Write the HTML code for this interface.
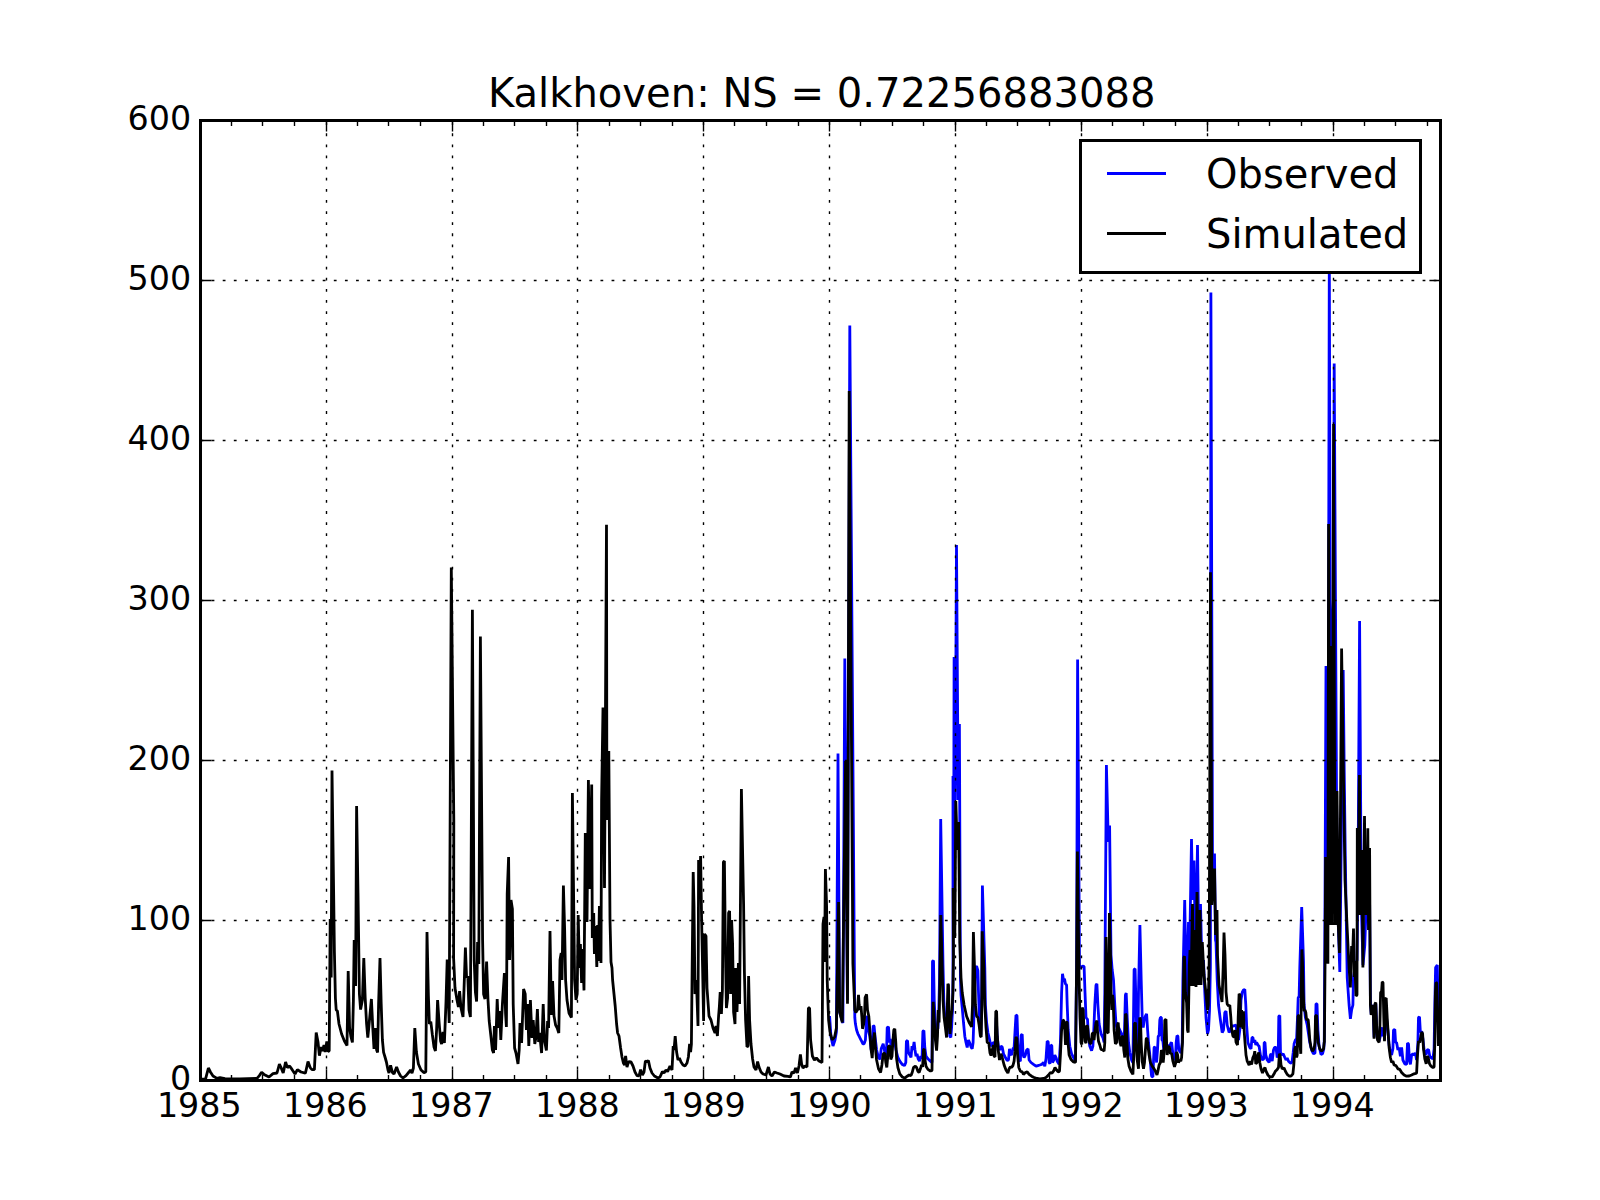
<!DOCTYPE html>
<html><head><meta charset="utf-8"><title>Kalkhoven</title>
<style>
html,body{margin:0;padding:0;background:#fff;}
svg{display:block}
text{font-family:"DejaVu Sans","Liberation Sans",sans-serif;fill:#000}
.tk{font-size:33.33px}
.big{font-size:40px}
</style></head><body>
<svg width="1600" height="1200" viewBox="0 0 1600 1200">
<rect x="0" y="0" width="1600" height="1200" fill="#fff"/>

<clipPath id="c"><rect x="200.5" y="120.5" width="1240.0" height="960.0"/></clipPath>
<polyline clip-path="url(#c)" points="829.6,1016.0 831.0,1037.0 833.0,1046.0 835.0,1040.0 836.4,1032.0 838.0,753.6 839.6,1012.0 842.9,1023.0 844.8,658.6 847.4,1000.0 849.8,325.4 854.4,967.5 854.8,1017.5 855.4,1023.8 856.6,1030.0 857.9,1033.8 859.1,1036.2 860.4,1038.8 861.6,1041.2 862.9,1043.8 864.1,1043.8 865.4,1040.0 866.6,1017.5 867.2,1016.2 868.2,1030.0 869.8,1036.2 871.2,1050.0 872.2,1042.5 873.2,1025.6 874.1,1026.2 875.0,1036.2 876.6,1050.0 878.5,1057.5 880.0,1059.4 881.2,1048.8 882.2,1046.2 883.2,1043.8 884.1,1048.8 885.4,1055.0 886.6,1050.0 887.2,1027.5 888.5,1026.9 889.5,1042.5 890.4,1038.8 891.2,1050.0 892.9,1042.5 894.1,1036.2 896.0,1050.0 897.9,1057.5 899.8,1061.2 902.2,1064.4 904.5,1065.6 905.8,1062.5 906.4,1041.2 907.5,1040.6 908.5,1052.5 909.8,1055.0 911.0,1057.5 912.0,1046.2 912.9,1050.0 914.1,1041.9 915.0,1050.0 916.0,1056.2 917.0,1053.8 918.2,1058.8 919.5,1061.2 920.8,1056.2 922.0,1058.8 922.9,1031.2 923.9,1030.6 924.8,1047.5 926.0,1056.2 927.9,1058.8 930.4,1061.2 932.0,1062.5 932.5,961.2 933.5,960.6 934.2,1000.0 935.4,1025.0 936.6,1030.0 937.9,1028.8 938.8,1011.2 939.5,980.0 940.7,819.0 943.0,965.0 943.8,1000.0 944.8,1017.5 946.6,1030.0 948.5,1017.5 949.8,1036.2 950.8,1037.5 951.6,1027.5 952.5,1010.0 953.0,980.0 953.0,776.0 953.6,900.0 954.1,657.0 955.2,800.0 956.5,545.0 958.2,800.0 959.4,724.0 960.4,977.5 961.0,995.0 962.2,1007.5 963.5,1022.5 964.8,1036.2 966.0,1042.5 967.2,1047.5 968.5,1040.0 969.8,1043.1 971.0,1046.9 972.2,1048.8 973.1,1042.5 973.9,1017.5 974.8,992.5 975.6,967.5 976.6,966.2 977.9,970.6 978.5,992.5 979.4,1017.5 980.8,1035.0 981.6,1005.0 982.4,885.6 984.8,967.5 985.4,1005.0 986.6,1022.5 987.9,1032.5 989.1,1037.5 991.0,1046.2 992.9,1043.1 994.1,1042.5 995.4,1046.2 996.2,1017.5 997.2,1036.2 998.5,1047.5 999.8,1050.0 1001.0,1046.2 1002.2,1046.9 1003.5,1053.8 1005.4,1057.5 1007.2,1060.6 1008.5,1060.0 1009.5,1048.8 1010.4,1053.8 1011.6,1055.0 1012.9,1048.8 1014.1,1047.5 1015.1,1030.0 1016.0,1015.0 1017.0,1015.6 1017.9,1042.5 1019.1,1060.0 1020.4,1061.2 1021.2,1035.0 1022.2,1034.4 1023.1,1055.0 1024.1,1057.5 1025.4,1055.0 1026.6,1050.0 1028.1,1048.8 1029.1,1060.0 1031.0,1062.5 1033.5,1064.4 1036.0,1066.2 1037.9,1065.6 1039.8,1065.0 1041.6,1064.4 1043.5,1062.5 1044.8,1066.2 1046.0,1058.8 1047.2,1041.2 1048.2,1041.9 1049.1,1062.5 1050.0,1063.8 1050.8,1045.0 1051.8,1045.6 1052.5,1062.5 1053.8,1060.0 1054.8,1055.0 1056.0,1057.5 1057.2,1061.2 1059.1,1064.4 1060.4,1042.5 1061.6,992.5 1062.5,973.8 1063.5,980.0 1064.5,978.8 1065.4,983.8 1066.6,985.0 1067.2,1005.0 1068.2,1030.0 1069.8,1046.2 1071.6,1053.8 1073.5,1057.5 1075.5,1061.2 1076.0,1017.5 1076.6,967.5 1077.6,659.6 1079.5,967.5 1080.4,968.8 1081.2,966.9 1082.5,966.2 1084.1,966.5 1085.0,992.5 1086.0,1017.5 1087.5,1019.4 1088.5,1037.5 1089.8,1046.2 1091.6,1050.6 1092.9,1046.2 1093.8,1030.0 1094.8,1005.0 1096.0,985.0 1096.9,983.8 1097.9,1005.0 1099.1,1023.8 1101.0,1033.8 1102.9,1037.5 1104.1,1042.5 1104.8,992.5 1106.4,765.0 1108.3,842.0 1109.6,825.6 1111.0,955.0 1112.2,970.0 1113.5,980.0 1114.8,1005.0 1116.0,1023.8 1117.2,1030.0 1118.5,1027.5 1119.8,1030.0 1121.0,1032.5 1122.2,1036.2 1123.5,1042.5 1124.5,1030.0 1125.4,995.0 1126.2,993.1 1127.2,1017.5 1128.5,1042.5 1129.8,1052.5 1131.6,1060.0 1132.9,1062.5 1133.5,1017.5 1134.1,969.4 1135.1,968.8 1136.0,1005.0 1137.0,1042.5 1137.9,1048.8 1138.5,992.5 1139.9,925.0 1141.2,980.0 1142.2,1017.5 1143.2,1027.5 1144.2,1020.0 1145.4,1016.2 1146.6,1013.8 1147.6,1030.0 1148.5,1042.5 1149.8,1055.0 1150.8,1067.5 1151.6,1076.2 1152.9,1076.9 1153.5,1061.2 1154.1,1047.5 1155.0,1046.9 1155.8,1055.0 1156.6,1062.5 1157.5,1050.0 1158.2,1036.2 1159.1,1035.6 1159.8,1020.0 1160.4,1017.5 1161.4,1017.5 1162.0,1040.0 1162.9,1041.2 1163.8,1050.0 1165.4,1042.5 1166.6,1048.8 1168.5,1045.0 1169.8,1046.2 1170.8,1043.1 1171.6,1042.5 1172.9,1053.8 1174.1,1060.0 1175.4,1057.5 1176.2,1042.5 1177.0,1035.6 1177.9,1036.2 1178.8,1050.0 1179.8,1051.2 1181.0,1053.1 1182.2,1042.5 1182.9,980.0 1184.7,900.0 1186.5,1000.0 1188.5,922.0 1189.5,960.0 1191.5,839.0 1192.6,900.0 1194.0,860.5 1195.5,960.0 1197.5,845.0 1199.0,960.0 1200.5,904.0 1202.0,970.0 1203.5,960.0 1204.8,992.5 1206.0,1017.5 1207.5,1033.8 1208.5,1030.0 1209.5,1011.0 1210.4,967.0 1210.9,292.5 1212.6,900.0 1214.5,853.5 1215.5,940.0 1216.0,942.5 1217.2,980.0 1218.5,1005.0 1220.4,1020.0 1222.2,1032.5 1223.5,1030.0 1224.8,1012.5 1226.0,1011.0 1227.2,1025.0 1229.1,1032.5 1230.4,1030.0 1231.6,1026.0 1233.5,1026.0 1236.0,1025.0 1237.2,1036.2 1238.5,1040.0 1239.8,1030.0 1241.0,1000.0 1242.2,992.5 1243.5,990.0 1244.8,989.4 1245.8,1005.0 1246.6,1025.0 1247.9,1042.5 1249.8,1047.5 1251.0,1048.8 1252.0,1037.5 1252.9,1037.5 1253.8,1042.5 1254.8,1040.0 1255.8,1045.0 1256.6,1042.5 1257.9,1045.0 1259.1,1046.2 1260.4,1055.0 1262.2,1060.0 1263.8,1058.8 1264.2,1042.5 1265.0,1042.5 1265.8,1055.0 1267.2,1060.0 1269.1,1062.5 1270.4,1055.0 1271.2,1053.8 1272.2,1061.2 1273.5,1050.0 1274.5,1047.5 1276.0,1047.5 1277.2,1057.5 1278.2,1055.0 1278.8,1016.2 1279.8,1015.6 1280.5,1052.5 1281.6,1055.0 1283.2,1053.8 1284.8,1057.5 1286.0,1060.0 1287.2,1058.1 1288.5,1061.2 1290.4,1063.1 1292.0,1062.5 1293.2,1052.5 1294.1,1043.8 1295.4,1040.0 1296.6,1038.8 1297.5,1017.5 1298.2,997.5 1299.1,996.9 1299.8,967.5 1301.7,907.0 1303.5,961.2 1304.1,1005.0 1305.4,1017.5 1307.2,1025.0 1309.8,1042.5 1311.6,1050.0 1313.5,1053.8 1315.0,1053.1 1316.0,1003.8 1317.0,1003.8 1317.9,1030.0 1319.1,1046.2 1321.0,1054.4 1322.5,1053.8 1323.8,1048.8 1324.2,1042.5 1324.3,1035.0 1325.0,900.0 1326.0,666.0 1327.3,880.0 1328.4,700.0 1329.3,255.0 1330.2,600.0 1331.2,660.0 1332.4,640.0 1333.4,600.0 1334.2,363.5 1336.5,790.0 1337.5,900.0 1339.8,972.0 1343.2,670.0 1344.2,770.0 1345.2,850.0 1346.6,940.0 1347.2,977.5 1349.1,1005.0 1350.4,1018.8 1351.6,1010.0 1352.9,1005.0 1353.5,977.0 1355.4,965.0 1357.0,960.0 1358.0,880.0 1359.6,621.0 1361.2,900.0 1363.0,965.0 1364.8,945.0 1365.3,930.0 1366.5,900.0 1367.8,860.0 1368.6,930.0 1369.6,900.0 1370.4,1000.0 1371.2,1014.4 1372.2,1005.0 1373.2,1010.0 1374.1,1037.5 1375.0,1005.0 1375.8,1003.8 1376.6,1025.0 1377.5,1038.8 1379.1,1041.2 1380.0,1037.5 1381.0,1030.0 1382.0,1027.5 1382.9,1036.2 1383.8,1030.0 1384.5,1040.0 1385.4,1017.5 1386.2,1015.0 1387.2,1023.8 1388.2,1033.8 1389.1,1045.0 1390.4,1052.5 1391.6,1055.0 1392.9,1048.8 1393.5,1030.0 1394.8,1029.4 1395.6,1042.5 1396.6,1042.5 1397.9,1050.0 1399.1,1047.5 1400.4,1056.2 1401.6,1047.5 1402.9,1060.0 1404.8,1063.8 1406.6,1064.4 1407.5,1043.1 1408.5,1043.8 1409.5,1061.2 1410.4,1064.4 1411.6,1055.0 1412.9,1053.8 1414.1,1055.0 1415.4,1053.1 1416.6,1060.0 1417.9,1042.5 1418.5,1017.5 1419.5,1016.9 1420.4,1032.5 1421.6,1031.2 1422.9,1038.8 1424.1,1050.0 1426.0,1055.0 1427.2,1050.0 1428.5,1049.4 1429.8,1056.2 1431.0,1057.5 1432.9,1058.8 1434.1,1048.8 1434.8,1005.0 1435.6,967.5 1437.3,965.0 1438.0,1000.0 1438.6,1040.0" fill="none" stroke="#0000ff" stroke-width="2.8" stroke-linejoin="bevel" stroke-linecap="butt"/>
<polyline clip-path="url(#c)" points="200.4,1079.2 205.6,1078.8 208.4,1068.0 210.4,1072.0 213.0,1076.0 217.0,1078.4 220.0,1077.6 225.0,1078.6 240.0,1079.0 257.0,1078.4 259.4,1075.6 261.6,1072.2 264.0,1074.4 269.0,1077.0 273.0,1073.6 277.0,1073.0 279.4,1064.0 281.4,1068.4 283.2,1073.0 285.6,1062.0 287.4,1067.6 289.6,1066.0 292.0,1069.4 295.0,1074.0 297.4,1069.6 301.0,1072.0 305.4,1073.2 308.0,1061.6 310.2,1067.6 312.0,1069.6 314.4,1069.6 316.2,1032.6 318.0,1042.0 319.4,1055.6 321.2,1047.0 322.4,1051.2 324.0,1045.0 325.2,1052.0 326.8,1041.4 328.0,1051.4 329.2,1051.0 330.2,919.0 331.2,977.6 332.0,770.5 333.6,890.0 334.4,952.0 335.4,998.0 336.2,1010.0 337.4,1011.0 339.0,1024.0 341.6,1034.0 344.4,1041.0 347.0,1045.6 348.2,971.0 349.6,1028.0 351.0,1037.0 352.4,1042.4 353.4,1000.0 354.2,940.0 355.6,986.0 356.6,806.0 358.0,893.0 359.4,994.0 360.6,1009.6 362.4,1000.0 363.8,958.0 365.2,998.0 366.6,1024.0 367.8,1037.6 369.4,1021.0 371.4,999.0 372.8,1028.0 374.0,1049.0 375.4,1028.0 376.6,1050.0 377.6,1052.4 378.6,1004.0 380.0,958.0 381.2,1004.0 382.4,1040.0 383.6,1052.4 385.0,1057.0 386.4,1062.0 388.0,1070.0 389.0,1073.0 390.6,1065.4 392.4,1072.4 394.0,1074.0 396.6,1067.0 398.4,1072.0 400.6,1076.0 403.0,1078.0 406.0,1075.6 409.0,1072.0 410.4,1070.0 412.0,1073.0 413.4,1068.0 414.8,1028.0 416.4,1052.0 418.4,1064.0 421.0,1070.0 424.0,1072.6 425.8,1072.0 427.0,932.0 428.4,996.0 429.4,1024.0 430.8,1021.6 432.4,1035.0 434.0,1047.0 435.4,1051.0 436.6,1030.0 437.6,1000.0 439.0,1021.0 440.6,1041.0 441.6,1044.0 443.0,1032.0 444.4,1043.0 446.0,1002.0 447.2,959.6 448.2,998.0 449.2,1023.0 451.3,567.5 453.8,821.0 453.6,958.0 455.0,988.0 457.0,1000.0 458.4,1007.0 459.6,991.0 461.0,1008.0 463.0,1017.0 464.0,990.0 465.4,947.6 466.6,978.0 467.8,976.0 469.0,1010.0 470.4,1017.0 472.4,609.8 474.2,960.0 475.4,992.0 476.6,1001.6 477.6,942.0 478.8,964.0 480.4,636.5 482.6,940.0 483.6,994.0 485.0,999.0 486.6,961.6 488.0,1000.0 489.2,1021.0 491.0,1037.0 492.4,1050.0 493.6,1053.0 494.4,1026.0 495.6,1050.0 497.2,999.0 498.4,1028.0 499.6,1011.0 500.8,1040.0 502.4,1004.0 504.4,973.0 505.6,1014.0 506.4,1027.0 507.2,894.0 508.6,857.0 509.6,960.0 511.0,900.0 512.4,909.0 513.2,1004.0 514.6,1048.0 516.0,1053.0 518.0,1064.0 519.2,1050.0 520.0,1023.0 521.6,1043.0 523.6,989.0 525.2,994.0 526.4,1030.0 527.6,1004.0 528.8,1046.0 530.4,1000.0 532.0,1038.0 533.2,1020.0 534.8,1044.0 536.0,1037.0 537.4,1009.0 538.6,1042.0 539.6,1033.0 541.6,1053.0 543.2,1004.0 544.4,1040.0 546.4,1050.4 547.6,1021.0 548.6,1028.0 550.0,931.0 551.4,1015.0 552.6,981.0 554.0,1016.0 555.6,1025.0 557.2,1028.0 558.8,1033.0 560.0,960.0 561.2,953.0 562.0,980.0 563.4,885.6 564.6,928.0 565.6,980.0 567.0,1000.0 569.0,1013.0 571.4,1017.6 572.4,793.0 574.6,980.0 576.0,1000.0 577.2,994.0 578.2,915.0 579.4,968.0 580.4,944.0 581.6,983.0 582.6,949.0 584.0,990.4 585.3,833.0 587.0,922.0 588.4,780.0 590.0,889.0 591.7,784.4 592.3,938.0 593.7,913.0 594.4,954.0 595.6,926.0 596.8,967.0 597.6,925.0 598.4,961.0 599.4,906.0 601.0,963.0 601.6,800.0 603.0,707.5 604.5,888.0 606.5,524.8 606.9,820.0 608.8,751.0 610.0,920.0 611.0,962.0 612.0,968.0 612.6,980.0 614.0,994.0 615.2,1006.0 616.6,1024.0 617.6,1033.0 619.0,1036.0 620.6,1048.0 622.0,1057.0 623.4,1063.0 624.6,1065.0 625.6,1056.0 627.0,1067.0 628.6,1061.6 631.0,1062.0 633.0,1066.0 635.0,1072.0 637.0,1075.6 639.0,1076.0 640.6,1069.6 642.4,1075.0 644.0,1072.0 645.4,1061.0 647.0,1061.6 648.4,1060.6 650.0,1068.0 652.0,1073.0 654.4,1076.0 658.0,1078.0 660.0,1077.0 662.4,1071.6 664.0,1073.0 666.0,1070.0 667.6,1071.6 670.0,1066.0 672.0,1070.0 673.2,1046.0 674.0,1050.0 675.2,1036.0 676.6,1052.0 678.0,1060.0 679.4,1058.0 681.0,1062.0 683.0,1065.0 685.0,1066.0 687.0,1063.0 688.4,1057.0 689.6,1044.0 690.6,1052.0 691.4,1044.0 692.2,963.0 693.2,872.0 694.0,906.0 695.0,994.0 696.4,980.0 698.0,1026.0 698.6,860.0 699.6,888.0 700.6,856.0 701.6,920.0 702.6,968.0 703.6,1021.0 704.6,934.0 706.0,936.0 707.0,988.0 709.0,1016.0 711.0,1020.0 713.0,1028.0 715.0,1033.0 716.0,1026.0 717.4,1036.0 718.6,1016.0 719.4,1006.0 720.2,992.0 721.4,1014.0 722.4,990.0 723.4,862.0 724.4,861.0 725.4,948.0 726.4,1008.0 727.6,998.0 728.6,913.0 729.6,911.0 730.6,994.0 731.6,920.0 732.6,944.0 733.6,1012.0 735.0,1024.0 735.6,968.0 737.0,1012.0 738.4,963.0 739.6,1004.0 741.4,789.0 743.6,904.0 744.4,972.0 745.6,1020.0 747.0,1047.0 748.0,1046.0 748.6,976.0 749.6,1020.0 751.0,1044.0 752.6,1059.0 754.0,1067.0 756.0,1070.0 757.6,1061.6 759.0,1067.0 761.0,1072.0 763.0,1074.0 766.0,1075.0 768.4,1067.0 770.0,1074.0 772.0,1076.0 774.4,1072.0 777.0,1073.0 780.0,1074.0 784.0,1076.0 788.0,1076.4 790.4,1077.0 792.0,1072.0 794.0,1073.0 795.6,1068.0 797.4,1073.0 799.0,1066.0 800.4,1054.4 801.6,1064.0 803.0,1068.0 805.0,1066.0 807.0,1067.0 808.4,1008.0 809.6,1008.0 810.6,1040.0 812.4,1056.0 814.4,1060.0 816.4,1058.0 819.0,1061.0 822.0,1062.4 823.0,924.0 824.0,917.0 824.6,962.0 825.4,869.0 826.6,906.0 827.2,980.0 828.6,1020.0 830.0,1032.0 832.2,1040.0 834.6,1037.0 836.4,1028.0 837.6,960.0 838.6,902.0 839.6,1012.0 842.3,1022.5 845.6,761.0 847.5,1003.8 849.2,391.0 852.9,963.8 854.1,992.5 854.8,1010.0 855.8,1012.5 856.6,1011.2 857.5,1010.0 858.5,994.8 859.2,1005.0 860.0,1010.0 861.0,1006.2 861.9,1017.5 862.5,1028.8 863.5,1025.0 864.5,1017.5 865.1,997.5 866.6,994.4 867.5,1010.0 868.8,1016.2 869.8,1030.0 871.0,1048.8 872.2,1058.1 873.1,1042.5 874.5,1032.5 875.4,1047.5 876.6,1060.0 878.5,1068.8 880.6,1072.5 881.9,1065.0 883.2,1053.8 884.8,1053.1 885.8,1062.5 886.8,1067.5 887.9,1055.0 888.5,1046.2 890.0,1046.2 890.8,1059.4 892.0,1056.2 892.9,1041.2 893.8,1030.0 894.8,1028.8 895.8,1042.5 896.6,1058.8 897.9,1067.5 899.8,1073.8 902.2,1076.9 904.8,1078.1 907.2,1076.2 909.1,1075.0 911.0,1075.6 912.2,1072.5 913.5,1067.5 915.4,1066.2 916.6,1067.5 917.9,1071.2 919.1,1072.5 920.4,1068.8 921.6,1065.0 922.6,1066.9 923.5,1050.0 924.2,1048.8 925.0,1060.0 926.0,1066.2 927.9,1069.4 930.4,1071.0 932.0,1070.6 932.5,1030.0 933.2,1001.9 934.1,1017.5 935.4,1040.0 936.6,1050.6 937.5,1036.2 938.2,1010.0 939.1,1022.5 939.8,986.2 940.8,915.0 942.2,967.5 943.0,1000.0 944.1,1017.5 945.4,1027.5 946.6,1037.5 947.9,983.8 948.5,985.0 949.1,1017.5 950.0,1033.8 951.0,1017.5 952.0,1010.0 952.9,992.5 953.5,955.0 953.2,888.0 954.8,938.0 955.8,801.0 957.3,850.0 958.6,822.0 959.8,942.5 961.0,977.5 962.2,992.5 964.1,1005.0 966.6,1016.2 969.1,1022.5 971.6,1026.9 972.5,1005.0 973.4,932.0 974.5,967.5 975.4,1005.0 976.6,1016.2 977.9,1017.5 979.1,1025.0 980.4,1036.2 981.2,1036.9 981.8,1005.0 982.2,931.2 983.9,967.5 984.8,1005.0 986.0,1027.5 987.2,1042.5 988.8,1043.1 990.0,1053.1 991.0,1055.6 992.2,1050.0 993.5,1045.0 994.1,1056.2 995.0,1056.9 995.8,1011.2 996.6,1011.2 997.2,1033.8 998.2,1050.0 999.5,1060.0 1001.0,1053.8 1002.2,1057.5 1004.1,1065.0 1006.0,1070.0 1007.9,1073.1 1009.1,1068.8 1010.4,1066.9 1011.6,1067.5 1012.9,1065.6 1014.1,1061.2 1015.0,1051.2 1016.0,1036.9 1016.9,1038.8 1017.6,1055.0 1018.8,1067.5 1020.4,1071.2 1022.2,1071.9 1023.5,1074.4 1025.4,1072.5 1027.2,1071.9 1029.1,1074.4 1031.6,1076.2 1034.1,1077.5 1036.0,1078.1 1039.8,1078.8 1043.5,1078.5 1046.0,1077.5 1048.5,1075.0 1050.4,1072.5 1052.0,1073.1 1053.5,1071.2 1055.0,1067.5 1056.6,1070.0 1058.2,1071.9 1059.5,1071.2 1060.4,1055.0 1061.6,1030.0 1062.9,1020.0 1063.8,1020.6 1064.8,1030.0 1065.5,1045.0 1066.2,1021.9 1067.2,1022.5 1068.0,1042.5 1069.1,1055.0 1071.0,1059.4 1073.5,1061.9 1075.5,1062.5 1076.0,1017.5 1076.6,967.5 1077.4,851.6 1079.1,980.0 1080.0,1017.5 1081.0,1042.5 1081.8,1044.4 1082.2,1007.5 1083.2,1010.0 1084.0,1030.0 1085.0,1041.2 1086.0,1043.1 1086.6,1025.6 1087.5,1026.2 1088.5,1037.5 1089.8,1043.1 1091.0,1043.8 1092.2,1033.8 1093.2,1032.5 1094.1,1040.0 1095.0,1030.0 1096.0,1022.5 1096.9,1020.6 1097.6,1032.5 1098.5,1041.2 1099.8,1045.0 1101.0,1049.4 1102.9,1050.0 1104.1,1051.2 1104.8,1042.5 1105.4,992.5 1106.0,937.0 1106.9,980.0 1107.5,1032.5 1108.2,1033.1 1108.9,992.5 1109.4,913.0 1110.5,955.0 1111.0,990.0 1111.8,1010.0 1112.5,995.0 1113.2,1000.0 1114.1,1030.0 1115.4,1043.8 1116.6,1042.5 1117.5,1025.0 1118.2,1022.5 1119.0,1033.8 1120.0,1042.5 1121.0,1046.2 1122.0,1036.9 1122.9,1036.2 1123.8,1050.0 1124.8,1057.5 1125.5,1013.8 1126.2,1015.0 1127.0,1042.5 1127.9,1058.8 1129.1,1066.2 1131.0,1071.2 1132.9,1074.4 1133.8,1055.0 1134.5,1023.8 1135.4,1022.5 1136.2,1042.5 1137.2,1060.0 1138.5,1068.8 1139.2,1042.5 1139.8,1017.5 1140.5,1020.0 1141.2,1042.5 1142.2,1061.2 1143.5,1068.8 1144.5,1062.5 1145.4,1050.0 1146.2,1038.8 1147.0,1038.1 1147.9,1045.0 1149.1,1055.0 1150.4,1062.5 1152.2,1066.2 1154.1,1068.8 1155.4,1071.2 1157.0,1075.0 1157.9,1071.2 1159.1,1065.0 1160.4,1062.5 1161.4,1050.0 1162.2,1051.9 1163.2,1062.5 1164.1,1052.5 1164.8,1020.0 1166.0,1019.4 1166.6,1042.5 1167.2,1055.0 1168.2,1046.2 1169.5,1047.5 1170.4,1053.8 1171.6,1053.1 1172.9,1061.2 1174.5,1066.9 1175.8,1062.5 1176.6,1051.9 1177.6,1055.0 1178.5,1062.5 1179.8,1060.0 1180.8,1061.2 1181.6,1057.5 1182.5,1042.5 1183.2,1005.0 1183.9,957.5 1184.5,956.2 1185.4,992.5 1186.6,1002.5 1187.5,1030.0 1188.2,1032.5 1189.3,965.0 1190.0,950.0 1191.0,986.0 1192.5,904.0 1193.5,986.0 1195.0,930.0 1196.0,987.0 1197.0,892.0 1198.3,985.0 1200.0,910.0 1201.0,985.0 1202.3,942.0 1204.0,975.0 1206.6,1000.0 1207.5,1010.0 1208.3,1005.0 1209.2,960.0 1210.5,572.2 1211.9,905.0 1214.5,868.5 1215.6,935.0 1217.0,910.0 1217.5,955.0 1219.0,985.0 1222.0,1002.0 1223.2,967.0 1224.0,932.5 1225.0,955.0 1226.0,992.0 1227.2,1004.0 1228.5,1006.0 1229.8,1005.0 1230.8,1017.0 1231.6,1029.0 1232.9,1036.0 1234.1,1037.5 1235.0,1030.0 1236.0,1042.0 1237.5,1045.0 1238.2,1017.5 1239.1,993.8 1240.0,995.0 1240.8,1027.5 1241.6,1010.0 1242.9,1028.8 1243.5,1011.2 1244.1,1030.0 1245.0,1042.5 1246.0,1055.0 1247.2,1061.2 1249.1,1065.0 1250.4,1061.2 1251.6,1064.4 1252.9,1057.5 1254.1,1055.0 1254.8,1051.2 1255.8,1063.8 1257.0,1062.5 1257.9,1055.0 1258.8,1052.5 1259.8,1062.5 1261.0,1068.8 1262.5,1073.1 1264.1,1068.8 1265.0,1067.5 1266.0,1071.2 1267.9,1075.0 1269.8,1076.9 1272.2,1076.9 1274.1,1073.8 1275.4,1071.2 1277.2,1069.4 1278.5,1067.5 1279.4,1053.8 1280.1,1055.0 1281.0,1065.0 1282.2,1068.8 1284.1,1068.1 1285.4,1071.2 1287.2,1074.4 1289.1,1076.0 1291.0,1076.2 1292.9,1073.8 1293.8,1065.0 1294.8,1048.8 1295.8,1046.2 1296.6,1057.5 1297.2,1055.0 1298.0,1016.2 1299.1,1015.0 1299.8,1042.5 1300.8,1053.8 1301.2,992.5 1301.9,949.4 1302.5,962.5 1303.2,992.5 1304.1,1011.2 1305.0,1010.0 1305.8,1012.5 1306.6,1020.0 1307.5,1019.4 1308.2,1020.0 1309.1,1030.0 1309.8,1040.0 1311.0,1047.5 1312.5,1051.2 1314.1,1048.8 1315.0,1042.5 1315.5,1016.2 1316.6,1015.0 1317.2,1030.0 1318.2,1042.5 1319.8,1048.8 1321.6,1051.2 1323.5,1048.8 1324.2,1042.5 1324.4,1042.0 1325.2,945.0 1325.6,857.0 1326.8,930.0 1327.9,963.8 1328.6,524.0 1330.2,925.0 1331.2,646.0 1332.1,925.0 1333.6,424.0 1335.0,925.0 1335.6,830.0 1336.2,925.0 1337.0,791.0 1338.3,925.0 1339.5,953.0 1341.6,648.6 1343.2,760.0 1345.0,880.0 1347.0,925.0 1349.1,967.5 1350.4,987.5 1351.6,946.0 1352.4,962.0 1353.5,928.5 1354.2,977.0 1354.8,961.0 1356.0,996.0 1357.0,995.0 1357.3,828.0 1358.0,915.0 1359.4,775.0 1360.5,915.0 1362.0,850.0 1362.9,967.5 1364.5,816.0 1365.5,915.0 1366.5,850.0 1367.0,915.0 1367.8,828.3 1368.6,930.0 1369.6,848.0 1370.4,1005.0 1371.2,1015.0 1372.2,1005.0 1373.2,1010.0 1374.1,1038.8 1375.0,1003.8 1375.8,1002.5 1376.6,1025.0 1377.5,1040.0 1379.1,1042.5 1379.8,1030.0 1380.6,992.5 1381.6,991.2 1382.2,981.9 1383.0,982.5 1383.8,1017.5 1384.5,1041.2 1385.4,998.8 1386.2,998.1 1387.2,1017.5 1388.2,1033.8 1389.1,1047.5 1390.4,1057.5 1391.6,1062.5 1392.9,1061.2 1394.1,1065.0 1396.0,1065.6 1397.9,1068.8 1399.8,1069.4 1401.6,1072.5 1404.1,1075.0 1406.6,1076.2 1409.1,1076.0 1411.6,1075.0 1414.1,1073.8 1416.6,1073.1 1417.5,1055.0 1418.5,1041.2 1419.8,1042.5 1420.8,1036.2 1421.9,1031.9 1422.6,1033.8 1423.5,1048.8 1424.8,1058.8 1426.2,1063.8 1427.2,1056.2 1428.2,1057.5 1429.5,1063.8 1431.0,1066.2 1432.9,1067.5 1434.1,1066.9 1434.8,1042.5 1435.4,992.5 1436.0,982.5 1436.7,983.0 1437.6,1010.0 1438.4,1046.0" fill="none" stroke="#000000" stroke-width="2.8" stroke-linejoin="bevel" stroke-linecap="butt"/>
<path d="M326.50 1080.5 V120.5 M452.50 1080.5 V120.5 M577.50 1080.5 V120.5 M703.50 1080.5 V120.5 M829.50 1080.5 V120.5 M955.50 1080.5 V120.5 M1081.50 1080.5 V120.5 M1207.50 1080.5 V120.5 M1333.50 1080.5 V120.5 M200.5 920.50 H1440.5 M200.5 760.50 H1440.5 M200.5 600.50 H1440.5 M200.5 440.50 H1440.5 M200.5 280.50 H1440.5" stroke="#000" stroke-width="1.39" stroke-dasharray="2.78 8.33" fill="none"/>
<path d="M200.50 1080.5 v-11.1 M200.50 120.5 v11.1 M231.50 1080.5 v-5.56 M231.50 120.5 v5.56 M262.50 1080.5 v-5.56 M262.50 120.5 v5.56 M294.50 1080.5 v-5.56 M294.50 120.5 v5.56 M326.50 1080.5 v-11.1 M326.50 120.5 v11.1 M357.50 1080.5 v-5.56 M357.50 120.5 v5.56 M388.50 1080.5 v-5.56 M388.50 120.5 v5.56 M420.50 1080.5 v-5.56 M420.50 120.5 v5.56 M452.50 1080.5 v-11.1 M452.50 120.5 v11.1 M483.50 1080.5 v-5.56 M483.50 120.5 v5.56 M514.50 1080.5 v-5.56 M514.50 120.5 v5.56 M546.50 1080.5 v-5.56 M546.50 120.5 v5.56 M577.50 1080.5 v-11.1 M577.50 120.5 v11.1 M609.50 1080.5 v-5.56 M609.50 120.5 v5.56 M640.50 1080.5 v-5.56 M640.50 120.5 v5.56 M672.50 1080.5 v-5.56 M672.50 120.5 v5.56 M703.50 1080.5 v-11.1 M703.50 120.5 v11.1 M734.50 1080.5 v-5.56 M734.50 120.5 v5.56 M766.50 1080.5 v-5.56 M766.50 120.5 v5.56 M798.50 1080.5 v-5.56 M798.50 120.5 v5.56 M829.50 1080.5 v-11.1 M829.50 120.5 v11.1 M860.50 1080.5 v-5.56 M860.50 120.5 v5.56 M892.50 1080.5 v-5.56 M892.50 120.5 v5.56 M923.50 1080.5 v-5.56 M923.50 120.5 v5.56 M955.50 1080.5 v-11.1 M955.50 120.5 v11.1 M986.50 1080.5 v-5.56 M986.50 120.5 v5.56 M1017.50 1080.5 v-5.56 M1017.50 120.5 v5.56 M1049.50 1080.5 v-5.56 M1049.50 120.5 v5.56 M1081.50 1080.5 v-11.1 M1081.50 120.5 v11.1 M1112.50 1080.5 v-5.56 M1112.50 120.5 v5.56 M1143.50 1080.5 v-5.56 M1143.50 120.5 v5.56 M1175.50 1080.5 v-5.56 M1175.50 120.5 v5.56 M1207.50 1080.5 v-11.1 M1207.50 120.5 v11.1 M1238.50 1080.5 v-5.56 M1238.50 120.5 v5.56 M1269.50 1080.5 v-5.56 M1269.50 120.5 v5.56 M1301.50 1080.5 v-5.56 M1301.50 120.5 v5.56 M1333.50 1080.5 v-11.1 M1333.50 120.5 v11.1 M1364.50 1080.5 v-5.56 M1364.50 120.5 v5.56 M1395.50 1080.5 v-5.56 M1395.50 120.5 v5.56 M1427.50 1080.5 v-5.56 M1427.50 120.5 v5.56 M200.5 1080.50 h11.1 M1440.5 1080.50 h-11.1 M200.5 920.50 h11.1 M1440.5 920.50 h-11.1 M200.5 760.50 h11.1 M1440.5 760.50 h-11.1 M200.5 600.50 h11.1 M1440.5 600.50 h-11.1 M200.5 440.50 h11.1 M1440.5 440.50 h-11.1 M200.5 280.50 h11.1 M1440.5 280.50 h-11.1 M200.5 120.50 h11.1 M1440.5 120.50 h-11.1" stroke="#000" stroke-width="1.39" fill="none"/>
<rect x="200.5" y="120.5" width="1240.0" height="960.0" fill="none" stroke="#000" stroke-width="3"/>
<text class="tk" x="199.3" y="1116.9" text-anchor="middle">1985</text>
<text class="tk" x="325.4" y="1116.9" text-anchor="middle">1986</text>
<text class="tk" x="451.4" y="1116.9" text-anchor="middle">1987</text>
<text class="tk" x="577.4" y="1116.9" text-anchor="middle">1988</text>
<text class="tk" x="703.4" y="1116.9" text-anchor="middle">1989</text>
<text class="tk" x="829.4" y="1116.9" text-anchor="middle">1990</text>
<text class="tk" x="955.4" y="1116.9" text-anchor="middle">1991</text>
<text class="tk" x="1081.3" y="1116.9" text-anchor="middle">1992</text>
<text class="tk" x="1206.3" y="1116.9" text-anchor="middle">1993</text>
<text class="tk" x="1332.3" y="1116.9" text-anchor="middle">1994</text>
<text class="tk" x="191.2" y="1089.7" text-anchor="end">0</text>
<text class="tk" x="191.2" y="929.7" text-anchor="end">100</text>
<text class="tk" x="191.2" y="769.7" text-anchor="end">200</text>
<text class="tk" x="191.2" y="609.7" text-anchor="end">300</text>
<text class="tk" x="191.2" y="449.7" text-anchor="end">400</text>
<text class="tk" x="191.2" y="289.7" text-anchor="end">500</text>
<text class="tk" x="191.2" y="129.7" text-anchor="end">600</text>
<text class="big" x="821.8" y="106.5" text-anchor="middle" style="font-size:40.08px">Kalkhoven: NS = 0.72256883088</text>
<rect x="1080.5" y="140.5" width="340" height="132" fill="#fff" stroke="#000" stroke-width="3"/>
<rect x="1107" y="172" width="59" height="3" fill="#0000ff"/>
<rect x="1107" y="232" width="59" height="3" fill="#000"/>
<text class="big" x="1206" y="187.5">Observed</text>
<text class="big" x="1206" y="248">Simulated</text>
</svg></body></html>
